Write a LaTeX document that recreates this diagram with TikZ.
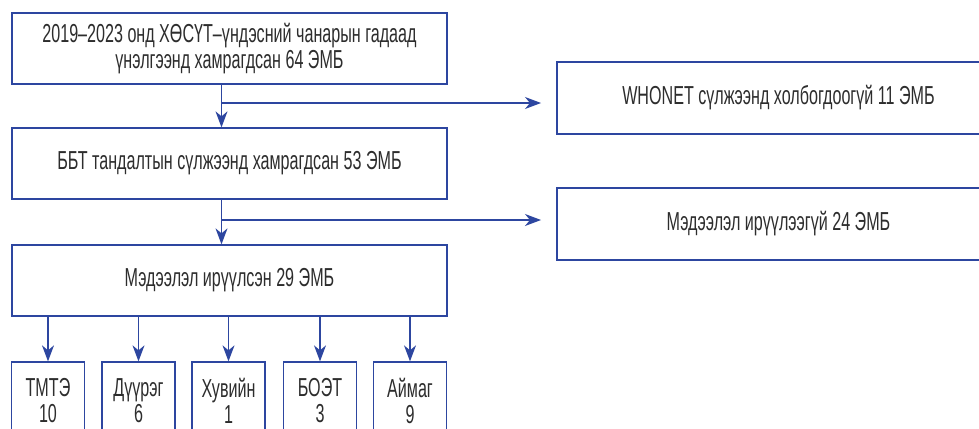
\documentclass[tikz,border=0pt]{standalone}
\usepackage{fontspec}
\setmainfont{Liberation Sans}[FakeStretch=0.62]
\usetikzlibrary{arrows.meta}
\definecolor{frameblue}{RGB}{45,70,160}
\definecolor{txtgray}{RGB}{45,45,45}

\begin{document}
\begin{tikzpicture}[x=1pt,y=-1pt,
  box/.style={draw=frameblue, line width=1.3pt, inner sep=0pt, align=center,
    text=txtgray, font=\fontsize{26}{26}\selectfont},
  wide/.style={box, minimum width=435, minimum height=71},
  side/.style={box, minimum width=443, minimum height=72},
  small/.style={box, minimum width=73, minimum height=78},
  arr/.style={draw=frameblue, line width=1.3pt, -{Stealth[length=16pt,width=12pt,inset=5pt]}}]
\clip (0,0) rectangle (979,428);
\fill[white] (0,0) rectangle (979,428);
% main column
\node[wide] (n64) at (229.5,48.5) {2019–2023 онд ХӨСҮТ–үндэсний чанарын гадаад\\үнэлгээнд хамрагдсан 64 ЭМБ};
\node[wide] (n53) at (229.5,163.5) {ББТ тандалтын сүлжээнд хамрагдсан 53 ЭМБ};
\node[wide] (n29) at (229.5,280.5) {Мэдээлэл ирүүлсэн 29 ЭМБ};
% side boxes
\node[side] (n11) at (778.5,98) {WHONET сүлжээнд холбогдоогүй 11 ЭМБ};
\node[side] (n24) at (778.5,224) {Мэдээлэл ирүүлээгүй 24 ЭМБ};
% bottom row
\node[small] (tmte)   at (48,401)    {ТМТЭ\\10};
\node[small] (duureg) at (138.5,401) {Дүүрэг\\6};
\node[small] (huviin) at (228.5,401) {Хувийн\\1};
\node[small] (boet)   at (320,401)   {БОЭТ\\3};
\node[small] (aimag)  at (410,401)   {Аймаг\\9};
% joints and free arrow ends
\coordinate (j1) at (221.5,103);
\coordinate (j2) at (221.5,220);
\coordinate (e1) at (541,103);
\coordinate (e2) at (541,220);
\draw[arr] (n64.south -| j1) -- (n53.north -| j1);
\draw[arr] (j1) -- (e1);
\draw[arr] (n53.south -| j2) -- (n29.north -| j2);
\draw[arr] (j2) -- (e2);
\foreach \b in {tmte,duureg,huviin,boet,aimag}
  \draw[arr] (n29.south -| \b.north) -- (\b.north);
\end{tikzpicture}
\end{document}
